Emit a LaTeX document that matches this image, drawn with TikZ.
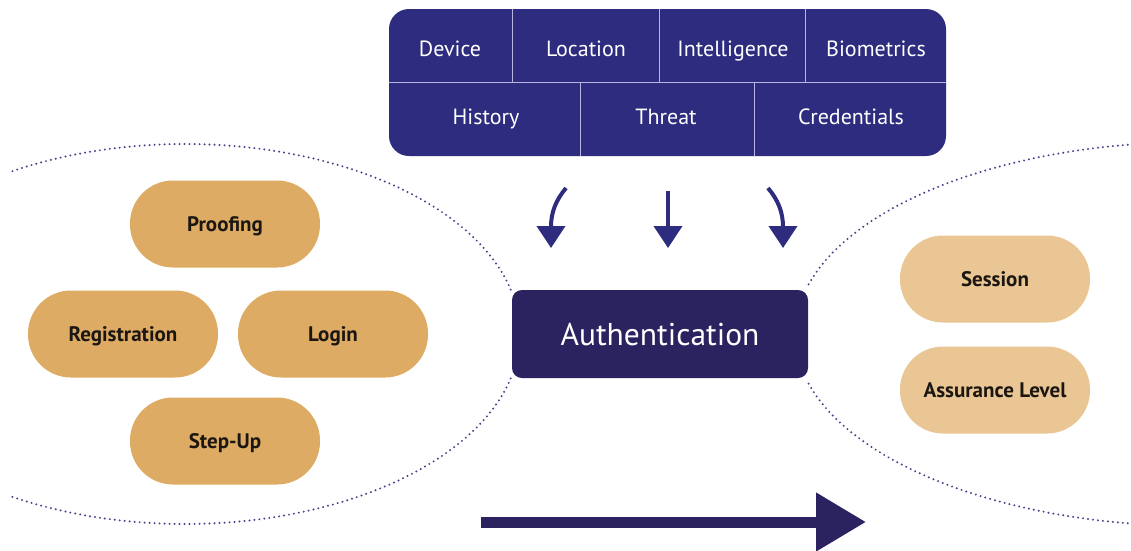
\documentclass[tikz,border=0pt]{standalone}
\usepackage{fontspec}
\setmainfont{PT Sans}
\usetikzlibrary{arrows.meta}
\definecolor{topblue}{RGB}{46,44,126}
\definecolor{authnavy}{RGB}{43,34,96}
\definecolor{pilldark}{RGB}{221,171,99}
\definecolor{pilllight}{RGB}{233,198,147}
\definecolor{divline}{RGB}{185,180,225}
\definecolor{dotcol}{RGB}{70,68,140}
\definecolor{pilltext}{RGB}{28,22,18}
\tikzset{
  cell/.style={text=white, font=\fontsize{22}{26}\selectfont, anchor=base, inner sep=0pt},
  pill/.style={rounded corners=43pt, minimum width=190pt, minimum height=87pt, inner sep=0pt,
     text height=14.5pt, text depth=0pt,
     font=\bfseries\fontsize{21}{25}\selectfont, text=pilltext},
  pillA/.style={pill, fill=pilldark},
  pillB/.style={pill, fill=pilllight},
  dotline/.style={draw=dotcol, line width=2.2pt, dash pattern=on 0pt off 5pt, line cap=round},
  divider/.style={draw=divline, line width=0.8pt},
  smallarrow/.style={draw=topblue, line width=4pt, -{Triangle[width=28pt,length=22pt]}},
  bigarrow/.style={draw=authnavy, line width=11pt, -{Triangle[width=56pt,length=50pt]}}
}
\begin{document}
\begin{tikzpicture}[x=1pt,y=-1pt]
\useasboundingbox (0,0) rectangle (1131,550);
\fill[white] (0,0) rectangle (1131,550);

% dotted ellipses
\draw[dotline] (185,334) ++(-121:335 and 190) arc[start angle=-121, end angle=-13, x radius=335, y radius=190];
\draw[dotline] (185,334) ++(121:335 and 190) arc[start angle=121, end angle=13, x radius=335, y radius=190];
\draw[dotline] (1195,334) ++(-165:400 and 192) arc[start angle=-165, end angle=-96, x radius=400, y radius=192];
\draw[dotline] (1195,334) ++(165:400 and 192) arc[start angle=165, end angle=96, x radius=400, y radius=192];

% top box
\fill[topblue, rounded corners=20pt] (389,9) rectangle (946,156);
\draw[divider] (389,82) -- (946,82);
\draw[divider] (512,9) -- (512,82);
\draw[divider] (659,9) -- (659,82);
\draw[divider] (805,9) -- (805,82);
\draw[divider] (580,82) -- (580,156);
\draw[divider] (754,82) -- (754,156);
\node[cell] (device) at (450,56) {Device};
\node[cell] (location) at (586,56) {Location};
\node[cell] (intel) at (733,56) {Intelligence};
\node[cell] (bio) at (876,56) {Biometrics};
\node[cell] (history) at (486,124) {History};
\node[cell] (threat) at (666,124) {Threat};
\node[cell] (cred) at (851,124) {Credentials};

% authentication
\node[fill=authnavy, rounded corners=10pt, minimum width=296pt, minimum height=88pt, inner sep=0pt,
  text height=22pt, text depth=0pt,
  text=white, font=\fontsize{31.5}{36}\selectfont] (auth) at (660,334) {Authentication};

% small arrows
\coordinate (a1s) at (566,188);
\coordinate (a1e) at (551,248);
\coordinate (a2s) at (668,191);
\coordinate (a2e) at (668,248);
\coordinate (a3s) at (768,188);
\coordinate (a3e) at (783,248);
\draw[smallarrow] (a1s) .. controls (556,200) and (551,212) .. (a1e);
\draw[smallarrow] (a2s) -- (a2e);
\draw[smallarrow] (a3s) .. controls (778,200) and (783,212) .. (a3e);

% left pills
\node[pillA] (proof) at (225,224) {Proofing};
\node[pillA] (reg) at (123,334) {Registration};
\node[pillA] (login) at (333,334) {Login};
\node[pillA] (step) at (225,441) {Step-Up};

% right pills
\node[pillB] (session) at (995,279) {Session};
\node[pillB] (assure) at (995,390) {Assurance Level};

% big arrow
\coordinate (bs) at (481,522);
\coordinate (be) at (866,522);
\draw[bigarrow] (bs) -- (be);
\end{tikzpicture}
\end{document}
